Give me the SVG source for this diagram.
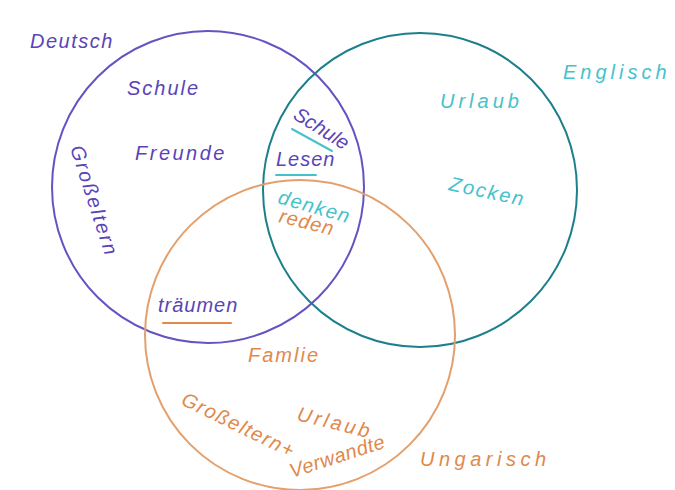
<svg xmlns="http://www.w3.org/2000/svg" width="675" height="490" viewBox="0 0 675 490">
<style>
.c{fill:none;stroke-width:2}
.t{font-family:"Liberation Sans","DejaVu Sans",sans-serif;font-style:italic;font-size:20px}
.p{fill:#5a44b8}
.b{fill:#45c2cc}
.o{fill:#e0894a}
.u{fill:none;stroke-width:2;stroke-linecap:round}
</style>
<rect width="675" height="490" fill="#ffffff"/>
<g id="deutsch">
<circle class="c" cx="208" cy="187" r="156" stroke="#6652c2"/>
<text class="t p" x="30" y="48" font-size="22" letter-spacing="1.5">Deutsch</text>
</g>
<g id="englisch">
<circle class="c" cx="420" cy="190" r="157" stroke="#1c7f8c"/>
<text class="t b" x="563" y="79" font-size="22" letter-spacing="4">Englisch</text>
</g>
<g id="ungarisch">
<circle class="c" cx="300" cy="335" r="155" stroke="#e3a06c"/>
<text class="t o" x="420" y="466" font-size="24" letter-spacing="4.5">Ungarisch</text>
</g>
<g id="deutsch-only">
<text class="t p" x="127" y="95" letter-spacing="2">Schule</text>
<text class="t p" x="135" y="160" letter-spacing="2.5">Freunde</text>
<text class="t p" transform="translate(70,148) rotate(72)" font-size="19" letter-spacing="2">Großeltern</text>
</g>
<g id="englisch-only">
<text class="t b" x="440" y="108" font-size="21" letter-spacing="4">Urlaub</text>
<text class="t b" transform="translate(448,190) rotate(12)" letter-spacing="2">Zocken</text>
</g>
<g id="deutsch-englisch">
<text class="t p" transform="translate(292,118) rotate(32)" font-size="17">Schule</text>
<text class="t p" x="276" y="166" font-size="19" letter-spacing="1">Lesen</text>
</g>
<g id="alle">
<text class="t b" transform="translate(277,203) rotate(16)" font-size="17" letter-spacing="1.5">denken</text>
<text class="t o" transform="translate(278,222) rotate(14)" font-size="17" letter-spacing="1">reden</text>
</g>
<g id="deutsch-ungarisch">
<text class="t p" x="158" y="312" font-size="18" letter-spacing="1">träumen</text>
</g>
<g id="ungarisch-only">
<text class="t o" x="248" y="362" font-size="19" letter-spacing="2">Famlie</text>
<text class="t o" transform="translate(180,404) rotate(26)" font-size="19" letter-spacing="1.5">Großeltern+</text>
<text class="t o" transform="translate(296,420) rotate(14)" font-size="19" letter-spacing="3">Urlaub</text>
<text class="t o" transform="translate(292,478) rotate(-18)" font-size="18" letter-spacing="0.5">Verwandte</text>
</g>
<g id="connectors">
<line class="u" x1="292" y1="129" x2="332" y2="151" stroke="#45c2cc"/>
<line class="u" x1="276" y1="175" x2="316" y2="175" stroke="#45c2cc"/>
<line class="u" x1="163" y1="323" x2="231" y2="323" stroke="#e0894a"/>
</g>
</svg>
